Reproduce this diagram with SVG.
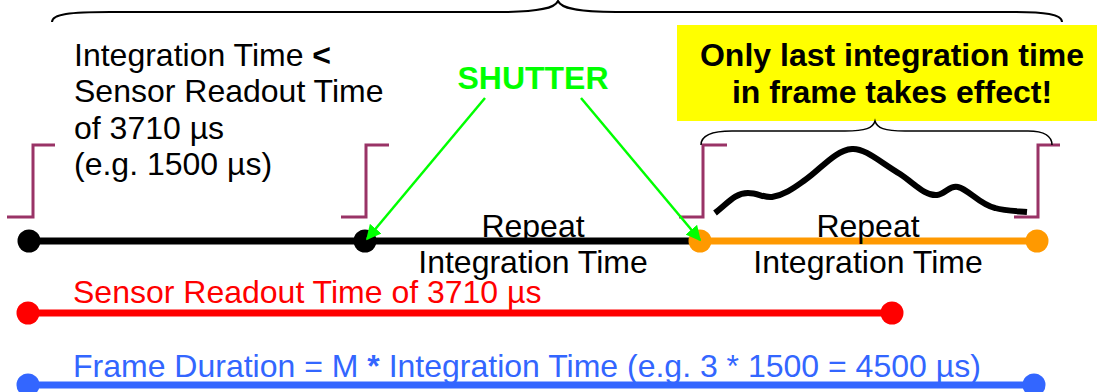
<svg xmlns="http://www.w3.org/2000/svg" width="1097" height="392" viewBox="0 0 1097 392">
<style>
.t{font-family:"Liberation Sans",Arial,sans-serif;font-size:32px;fill:#000}
.b{font-weight:bold}
.pulse{fill:none;stroke:#993366;stroke-width:3}
.brace{fill:none;stroke:#000}
.arrow{stroke:#00FF00;stroke-width:2.5;fill:none}
</style>
<defs>
<marker id="ah" viewBox="0 0 10 10" refX="9" refY="5" markerWidth="6" markerHeight="6" orient="auto" markerUnits="strokeWidth">
<path d="M0,0 L10,5 L0,10 z" fill="#00FF00"/>
</marker>
</defs>
<rect width="1097" height="392" fill="#fff"/>
<g id="top-brace"><path class="brace" stroke-width="2" d="M52,22 C52,14 70,12 110,12 L500,12 C540,12 555,8 558,1 C561,8 576,12 616,12 L1010,12 C1045,12 1062,14 1062,22"/></g>
<g id="note-integration">
<text class="t" x="74" y="66">Integration Time <tspan class="b">&lt;</tspan></text>
<text class="t" x="74" y="102">Sensor Readout Time</text>
<text class="t" x="74" y="139">of 3710 µs</text>
<text class="t" x="74" y="175">(e.g. 1500 µs)</text>
</g>
<g id="note-last">
<rect x="677" y="25" width="420" height="96" fill="#FFFF00"/>
<text class="t b" x="892" y="66" text-anchor="middle" font-size="31">Only last integration time</text>
<text class="t b" x="892" y="103" text-anchor="middle" font-size="31">in frame takes effect!</text>
</g>
<g id="pulses">
<path class="pulse" d="M7,217 H33 V145 H55"/>
<path class="pulse" d="M341,217 H366 V145 H389"/>
<path class="pulse" d="M679,217 H703 V145 H727"/>
<path class="pulse" d="M1014,217 H1038 V145 H1060"/>
</g>
<g id="small-brace"><path class="brace" stroke-width="1.5" d="M701,145 C701,136 712,131 732,131 L845,131 C866,131 873,128 875,121 C877,128 884,131 905,131 L1028,131 C1045,131 1052,137 1052,145"/></g>
<g id="signal"><path d="M715,213 C728,203 735,193 748,193 C758,193 764,198 772,197 C785,195 795,187 805,180 C820,170 835,150 852,149 C865,148 880,162 900,174 C915,184 925,196 937,195 C945,194 950,185 958,187 C968,189 980,205 995,208 C1005,211 1015,211 1027,212" fill="none" stroke="#000" stroke-width="6"/></g>
<g id="timeline-black">
<line x1="29" y1="241" x2="700" y2="241" stroke="#000" stroke-width="7"/>
<circle cx="29" cy="241" r="11.5" fill="#000"/>
<circle cx="365" cy="241" r="11.5" fill="#000"/>
</g>
<g id="timeline-orange">
<line x1="700" y1="241" x2="1037" y2="241" stroke="#FF9900" stroke-width="7"/>
<circle cx="700" cy="241" r="11.5" fill="#FF9900"/>
<circle cx="1037" cy="241" r="11.5" fill="#FF9900"/>
</g>
<g id="repeat-1">
<text class="t" x="533" y="237" text-anchor="middle">Repeat</text>
<text class="t" x="533" y="273" text-anchor="middle">Integration Time</text>
</g>
<g id="repeat-2">
<text class="t" x="868" y="237" text-anchor="middle">Repeat</text>
<text class="t" x="868" y="273" text-anchor="middle">Integration Time</text>
</g>
<g id="readout">
<line x1="28" y1="313" x2="892" y2="313" stroke="#FF0000" stroke-width="7"/>
<circle cx="28" cy="313" r="11.5" fill="#FF0000"/>
<circle cx="892" cy="313" r="11.5" fill="#FF0000"/>
<text class="t" x="73" y="303" style="fill:#FF0000">Sensor Readout Time of 3710 µs</text>
</g>
<g id="frame">
<line x1="28" y1="385" x2="1034" y2="385" stroke="#3366FF" stroke-width="7"/>
<circle cx="28" cy="385" r="11.5" fill="#3366FF"/>
<circle cx="1034" cy="385" r="11.5" fill="#3366FF"/>
<text class="t" x="73" y="377" style="fill:#3366FF">Frame Duration = M <tspan class="b">*</tspan> Integration Time (e.g. 3 * 1500 = 4500 µs)</text>
</g>
<g id="shutter">
<text class="t b" x="533" y="89" text-anchor="middle" font-size="31" style="fill:#00FF00">SHUTTER</text>
</g>
<g id="connectors">
<line class="arrow" x1="485" y1="98" x2="367" y2="239" marker-end="url(#ah)"/>
<line class="arrow" x1="581" y1="98" x2="700" y2="240" marker-end="url(#ah)"/>
</g>
</svg>
